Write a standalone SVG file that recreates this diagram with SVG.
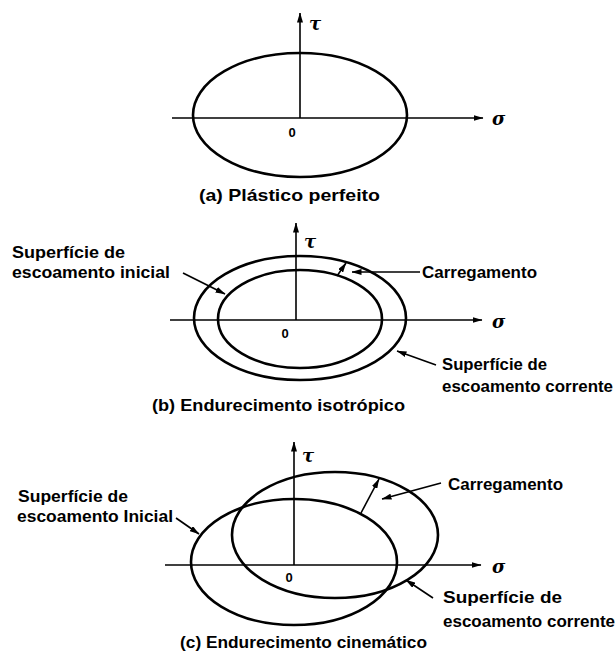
<svg xmlns="http://www.w3.org/2000/svg" width="616" height="665" viewBox="0 0 616 665">
<style>
.curve{fill:none;stroke:#000;stroke-width:2.6}
.axis{fill:none;stroke:#000;stroke-width:1.6}
.lead{fill:none;stroke:#000;stroke-width:1.6}
.lbl{font-family:"Liberation Sans",Arial,sans-serif;font-weight:bold;font-size:17px;fill:#000}
.sym{font-family:"DejaVu Serif","Liberation Serif",serif;font-style:italic;font-weight:bold;font-size:18px;fill:#000}
.zero{font-family:"Liberation Sans",Arial,sans-serif;font-weight:bold;font-size:13px;fill:#000;text-anchor:middle}
</style>
<defs>
<marker id="ah" markerWidth="10" markerHeight="6" refX="9.5" refY="3" orient="auto" markerUnits="userSpaceOnUse"><path d="M0,0 L10,3 L0,6 z" fill="#000"/></marker>
</defs>
<rect width="616" height="665" fill="#fff"/>

<g id="panel-a">
<g id="a-axes"><path class="axis" d="M172,118 L483,118" marker-end="url(#ah)"/><path class="axis" d="M300,118 L300,13" marker-end="url(#ah)"/></g>
<g id="a-surface"><ellipse class="curve" cx="300" cy="115" rx="107" ry="62"/></g>
<g id="a-labels">
<text class="sym" x="309" y="30">τ</text>
<text class="sym" x="492" y="125">σ</text>
<text class="zero" x="292" y="137">0</text>
<text class="lbl" x="199" y="201" textLength="181" lengthAdjust="spacingAndGlyphs">(a) Plástico perfeito</text>
</g>
</g>

<g id="panel-b">
<g id="b-axes"><path class="axis" d="M170,320 L482,320" marker-end="url(#ah)"/><path class="axis" d="M296,320 L296,223" marker-end="url(#ah)"/></g>
<g id="b-current"><ellipse class="curve" cx="300" cy="318" rx="106" ry="62"/></g>
<g id="b-initial"><ellipse class="curve" cx="300" cy="319" rx="82" ry="49"/></g>
<g id="b-labels">
<text class="sym" x="304" y="248">τ</text>
<text class="sym" x="492" y="328">σ</text>
<text class="zero" x="285" y="338">0</text>
<text class="lbl" x="12" y="258" textLength="113" lengthAdjust="spacingAndGlyphs">Superfície de</text>
<text class="lbl" x="12" y="278" textLength="158" lengthAdjust="spacingAndGlyphs">escoamento inicial</text>
<text class="lbl" x="422" y="278" textLength="115" lengthAdjust="spacingAndGlyphs">Carregamento</text>
<text class="lbl" x="442" y="370" textLength="105" lengthAdjust="spacingAndGlyphs">Superfície de</text>
<text class="lbl" x="442" y="392" textLength="171" lengthAdjust="spacingAndGlyphs">escoamento corrente</text>
<text class="lbl" x="152" y="411" textLength="253" lengthAdjust="spacingAndGlyphs">(b) Endurecimento isotrópico</text>
</g>
</g>

<g id="panel-c">
<g id="c-axes"><path class="axis" d="M165,565 L481,565" marker-end="url(#ah)"/><path class="axis" d="M294,565 L294,442" marker-end="url(#ah)"/></g>
<g id="c-initial"><ellipse class="curve" cx="294" cy="562" rx="103" ry="63"/></g>
<g id="c-current"><ellipse class="curve" cx="335" cy="535" rx="103" ry="63"/></g>
<g id="c-labels">
<text class="sym" x="302" y="462">τ</text>
<text class="sym" x="492" y="573">σ</text>
<text class="zero" x="289" y="582">0</text>
<text class="lbl" x="18" y="502" textLength="110" lengthAdjust="spacingAndGlyphs">Superfície de</text>
<text class="lbl" x="17" y="522" textLength="156" lengthAdjust="spacingAndGlyphs">escoamento Inicial</text>
<text class="lbl" x="448" y="490" textLength="115" lengthAdjust="spacingAndGlyphs">Carregamento</text>
<text class="lbl" x="443" y="603" textLength="119" lengthAdjust="spacingAndGlyphs">Superfície de</text>
<text class="lbl" x="443" y="627" textLength="172" lengthAdjust="spacingAndGlyphs">escoamento corrente</text>
<text class="lbl" x="180" y="648" textLength="247" lengthAdjust="spacingAndGlyphs">(c) Endurecimento cinemático</text>
</g>
</g>

<g id="connectors">
<path class="lead" d="M183,273 L225,294" marker-end="url(#ah)"/>
<path class="lead" d="M420,272 L352,272" marker-end="url(#ah)"/>
<path class="lead" d="M337,276 L346,263" marker-end="url(#ah)"/>
<path class="lead" d="M436,365 L397,351" marker-end="url(#ah)"/>
<path class="lead" d="M176,518 L199,534" marker-end="url(#ah)"/>
<path class="lead" d="M441,483 L382,499" marker-end="url(#ah)"/>
<path class="lead" d="M361,513 L379,479" marker-end="url(#ah)"/>
<path class="lead" d="M433,598 L406,580" marker-end="url(#ah)"/>
</g>
</svg>
